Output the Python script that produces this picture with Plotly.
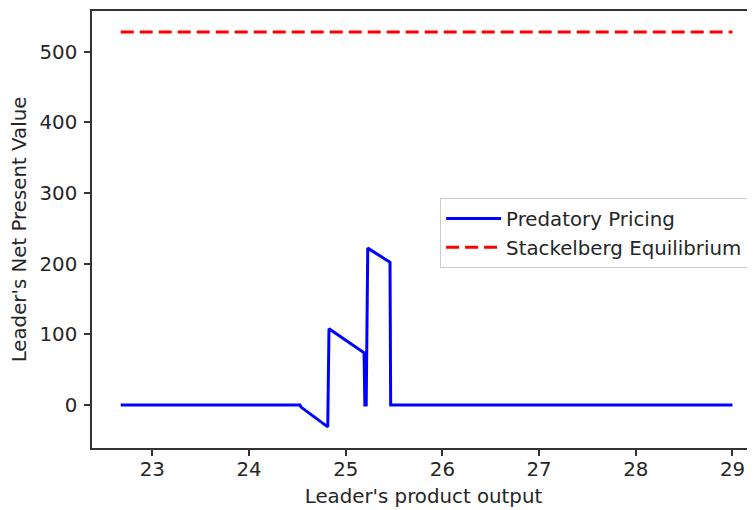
import plotly.graph_objects as go

# Data
pred_x = [22.673, 24.527, 24.538, 24.814, 24.827, 25.190, 25.198, 25.212, 25.228, 25.458, 25.465, 29.0]
pred_y = [0, 0, -3, -31, 108, 74, 0, 0, 222, 202, 0, 0]
stack_x = [22.673, 29.0]
stack_y = [528, 528]
x_ticks = [23, 24, 25, 26, 27, 28, 29]
y_ticks = [0, 100, 200, 300, 400, 500]

FONT = "DejaVu Sans"
FS = 19.8
TXT = "#262626"
AX = "#333333"

fig = go.Figure()
fig.add_trace(go.Scatter(x=pred_x, y=pred_y, mode="lines", name="Predatory Pricing",
                         line=dict(color="#0000ff", width=3)))
fig.add_trace(go.Scatter(x=stack_x, y=stack_y, mode="lines", name="Stackelberg Equilibrium",
                         line=dict(color="#ff0000", width=3, dash="13px,6px")))

fig.update_layout(
    width=747, height=502,
    margin=dict(l=84, r=0, t=3, b=62, autoexpand=False),
    paper_bgcolor="white", plot_bgcolor="white",
    font=dict(family=FONT, size=FS, color=TXT),
    showlegend=True,
    legend=dict(x=0.525, y=0.572, xanchor="left", yanchor="top",
                bgcolor="white", bordercolor="#cccccc", borderwidth=1,
                font=dict(family=FONT, size=FS, color=TXT),
                itemwidth=55, tracegroupgap=0),
)
fig.update_xaxes(range=[22.376, 29.233], tickmode="array", tickvals=x_ticks,
                 ticktext=[str(v) for v in x_ticks],
                 showgrid=False, zeroline=False, showline=True, linecolor=AX, linewidth=1.5,
                 mirror=True, ticks="outside", ticklen=6, tickwidth=1.5, tickcolor=AX,
                 ticklabelstandoff=-4,
                 title=dict(text="Leader's product output", standoff=10,
                            font=dict(family=FONT, size=FS, color=TXT)))
fig.update_yaxes(range=[-60.9, 557.6], tickmode="array", tickvals=y_ticks,
                 ticktext=[str(v) for v in y_ticks],
                 showgrid=False, zeroline=False, showline=True, linecolor=AX, linewidth=1.5,
                 mirror=False, ticks="outside", ticklen=6, tickwidth=1.5, tickcolor=AX,
                 ticklabelstandoff=3,
                 title=dict(text="Leader's Net Present Value", standoff=12,
                            font=dict(family=FONT, size=FS, color=TXT)))

fig.write_html("out.html")
